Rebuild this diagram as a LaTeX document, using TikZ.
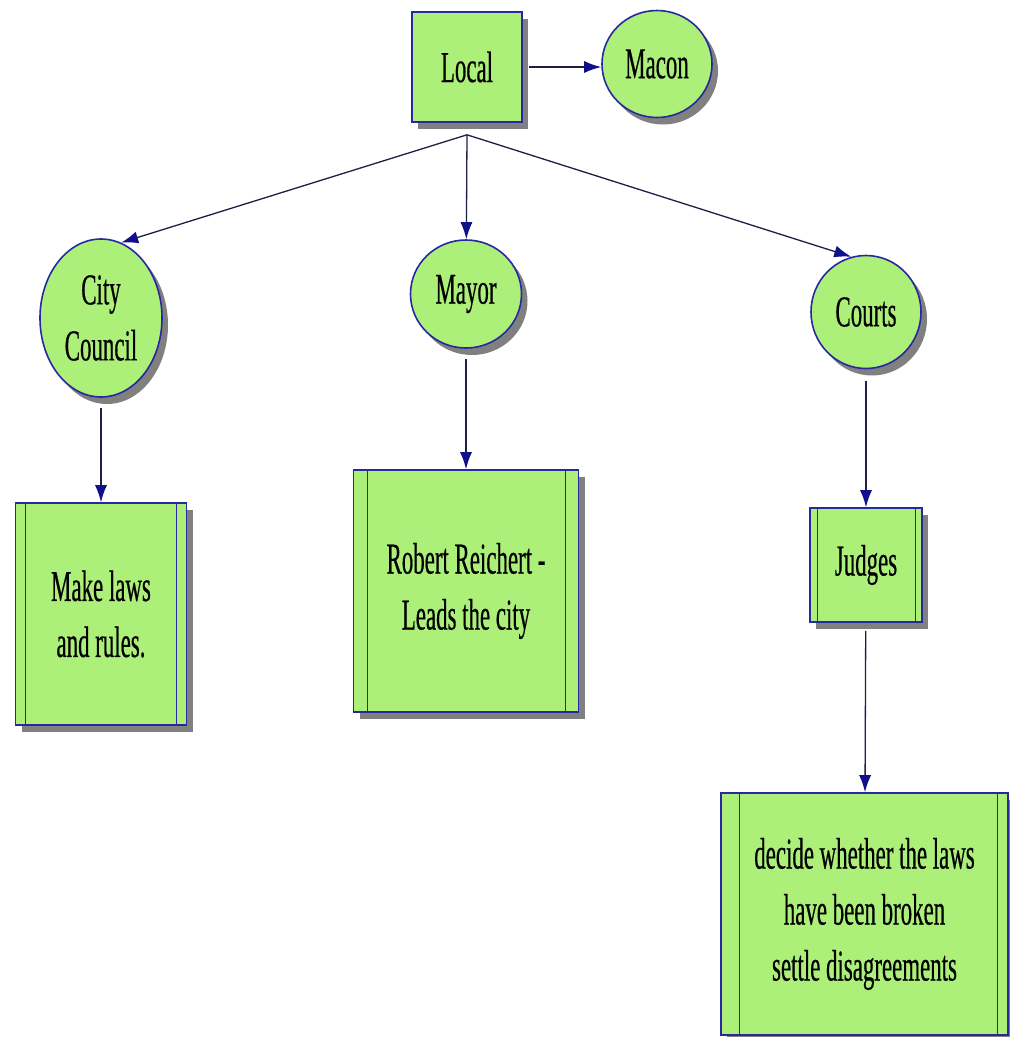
\documentclass[tikz,border=0pt]{standalone}
\usepackage{fontspec}
\setmainfont[FakeStretch=0.52,FakeBold=0.4]{Liberation Serif}
\usetikzlibrary{shapes.geometric,shadows,arrows.meta}
\definecolor{boxfill}{RGB}{172,240,122}
\definecolor{edge}{RGB}{40,40,160}
\definecolor{wire}{RGB}{30,30,70}
\definecolor{tipcol}{RGB}{16,16,140}
\definecolor{shade}{RGB}{128,128,128}

\begin{document}
\begin{tikzpicture}[x=1pt,y=-1pt,
  every node/.style={font=\fontsize{44}{56}\selectfont, align=center, text=black, inner sep=0pt},
  base/.style={fill=boxfill, draw=edge, line width=1.6pt,
    drop shadow={shadow xshift=6pt, shadow yshift=-7pt, fill=shade, opacity=1}},
  oval/.style={base, ellipse},
  sidebars/.style 2 args={path picture={
    \draw[edge, line width=1pt]
      ([xshift=#1]path picture bounding box.north west) -- ([xshift=#1]path picture bounding box.south west)
      ([xshift=-#2]path picture bounding box.north east) -- ([xshift=-#2]path picture bounding box.south east);}},
  link/.style={draw=wire, line width=1.3pt, -{Latex[length=17pt,width=12pt,color=tipcol]}}
]
\useasboundingbox (0,0) rectangle (1010,1037);

% top level
\node[base, rectangle, minimum width=110pt, minimum height=110pt] (local) at (467,67) {Local};
\node[oval, minimum width=110pt, minimum height=107pt] (macon) at (657,64) {Macon};
\coordinate (hub) at ([yshift=-12pt]local.south);

% branches
\node[oval, minimum width=122pt, minimum height=158pt] (council) at (101,318) {City\\Council};
\node[oval, minimum width=111pt, minimum height=108pt] (mayor) at (466,294) {Mayor};
\node[oval, minimum width=110pt, minimum height=113pt] (courts) at (866,312) {Courts};

% details
\node[base, rectangle, minimum width=171pt, minimum height=222pt, sidebars={10pt}{10pt}]
  (laws) at (101,614) {Make laws\\and rules.};
\node[base, rectangle, minimum width=225pt, minimum height=242pt, sidebars={14pt}{13pt}]
  (robert) at (466,591) {Robert Reichert -\\Leads the city};
\node[base, rectangle, minimum width=112pt, minimum height=114pt, sidebars={7pt}{7pt}]
  (judges) at (866,565) {Judges};
\node[base, rectangle, minimum width=287pt, minimum height=242pt, sidebars={18pt}{11pt}]
  (decide) at (864.5,914) {decide whether the laws\\have been broken\\settle disagreements};

% connectors
\draw[link, shorten <=6pt] (local.east) -- (macon.west |- local.east);
\draw[link] (hub) -- (council.75);
\draw[link] (hub) -- (mayor);
\draw[link] (hub) -- (courts.105);
\draw[link, shorten <=10pt] (council) -- (laws);
\draw[link, shorten <=10pt] (mayor) -- (robert);
\draw[link, shorten <=12pt] (courts) -- (judges);
\draw[link, shorten <=8pt] (judges) -- (decide);
\end{tikzpicture}
\end{document}
